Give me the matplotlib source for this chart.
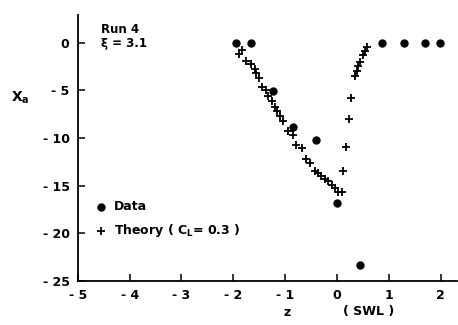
import numpy as np
import matplotlib.pyplot as plt

# measured data (filled circles)
data_z = [-1.95, -1.66, -1.24, -0.84, -0.41, 0.0, 0.45, 0.88, 1.30, 1.71, 1.99]
data_x = [0.0, 0.0, -5.1, -8.8, -10.2, -16.8, -23.3, 0.0, 0.0, 0.0, 0.0]

# theory (crosses), left branch then right branch
theory_z = [-1.89, -1.84, -1.75, -1.65, -1.59, -1.56, -1.50, -1.44, -1.36, -1.33,
            -1.26, -1.20, -1.15, -1.10, -1.04, -0.94, -0.84, -0.78, -0.68, -0.60,
            -0.52, -0.43, -0.36, -0.30, -0.23, -0.17, -0.10, -0.04, 0.03, 0.09,
            0.12, 0.17, 0.23, 0.28, 0.35, 0.38, 0.41, 0.45, 0.50, 0.54, 0.59]
theory_x = [-1.2, -0.8, -1.9, -2.2, -2.8, -3.2, -3.7, -4.7, -5.0, -5.6,
            -6.1, -6.7, -7.2, -7.7, -8.2, -9.3, -9.7, -10.7, -11.0, -12.2,
            -12.6, -13.5, -13.7, -14.0, -14.3, -14.5, -14.9, -15.2, -15.7, -15.7,
            -13.5, -10.9, -8.0, -5.8, -3.5, -3.0, -2.5, -2.0, -1.3, -0.9, -0.5]

xticks = [-5, -4, -3, -2, -1, 0, 1, 2]
xticklabels = ['- 5', '- 4', '- 3', '- 2', '- 1', '0', '1', '2']
yticks = [0, -5, -10, -15, -20, -25]
yticklabels = ['0', '- 5', '- 10', '- 15', '- 20', '- 25']

plt.rcParams['font.family'] = 'DejaVu Sans'
plt.rcParams['font.weight'] = 'bold'

fig = plt.figure(figsize=(4.58, 3.25), dpi=100)
ax = fig.add_axes([0.170, 0.135, 0.828, 0.819])

ax.plot(data_z, data_x, 'o', color='black', markersize=5, zorder=3)
ax.plot(theory_z, theory_x, '+', color='black', markersize=6, mew=1.3)

ax.set_xlim(-5, 2.32)
ax.set_ylim(-25, 2.9)
ax.spines['top'].set_visible(False)
ax.spines['right'].set_visible(False)
ax.spines['left'].set_linewidth(1.3)
ax.spines['bottom'].set_linewidth(1.3)
ax.set_xticks(xticks)
ax.set_xticklabels(xticklabels)
ax.set_yticks(yticks)
ax.set_yticklabels(yticklabels)
ax.tick_params(direction='in', length=5, width=1.1, labelsize=9, pad=6)

# legend drawn by hand like the original
ax.plot([-4.55], [-17.2], 'o', color='black', markersize=5)
ax.text(-4.3, -17.2, 'Data', fontsize=9, va='center')
ax.plot([-4.55], [-19.7], '+', color='black', markersize=6, mew=1.3)
ax.text(-4.3, -19.7, 'Theory ( C$_\\mathbf{L}$= 0.3 )', fontsize=9, va='center')

ax.text(-4.55, 1.4, 'Run 4', fontsize=8.5, va='center')
ax.text(-4.55, -0.1, 'ξ = 3.1', fontsize=8.5, va='center')

fig.text(0.045, 0.70, 'X$_\\mathbf{a}$', fontsize=10, ha='center', va='center')
fig.text(0.626, 0.04, 'z', fontsize=9, ha='center', va='center')
fig.text(0.805, 0.04, '( SWL )', fontsize=9, ha='center', va='center')

fig.savefig('out.png', dpi=100)
